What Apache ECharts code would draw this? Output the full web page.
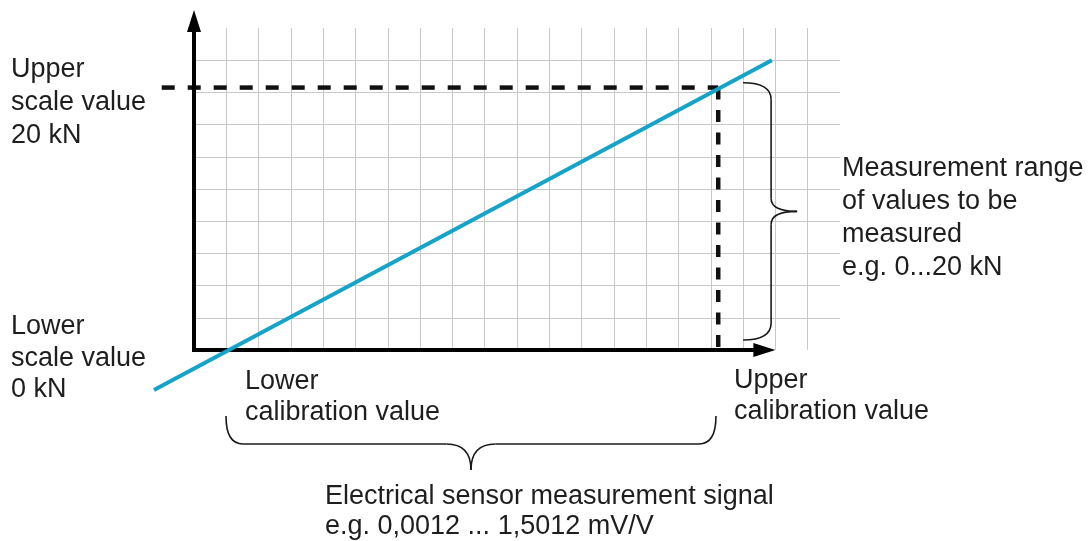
<!DOCTYPE html>
<html>
<head>
<meta charset="utf-8">
<script src="https://cdn.jsdelivr.net/npm/echarts@6/dist/echarts.min.js"></script>
<style>html,body{margin:0;padding:0;background:#fff}#chart{width:1091px;height:541px}</style>
</head>
<body>
<div id="chart"></div>
<script>
// ---- data (grid cell units) ----
const signalLine = [[-1.24, -1.24, 17.89, 9.0]];
const upperScaleLine = [[-1.0, 8.15, 16.23, 8.15]];
const upperCalibrationLine = [[16.23, 8.15, 16.23, 0.05]];
const axisArrows = [[0, -0.06, 0, 10.56], [-0.06, 0, 18.0, 0]];
const braces = [[17.0, 8.3, 17.0, 0.31], [16.16, -2.05, 0.99, -2.05]];
const labelUpperScale = ['Upper', 'scale value', '20 kN'];
const labelLowerScale = ['Lower', 'scale value', '0 kN'];
const labelRange = ['Measurement range', 'of values to be', 'measured', 'e.g. 0...20 kN'];
const labelLowerCal = ['Lower', 'calibration value'];
const labelUpperCal = ['Upper', 'calibration value'];
const labelSignal = ['Electrical sensor measurement signal', 'e.g. 0,0012 ... 1,5012 mV/V'];

const FONT = '27px "Liberation Sans", Arial, sans-serif';
const TXT = '#1e1e1e';

function segmentRenderer(stroke, width, dash) {
  return function (params, api) {
    const p1 = api.coord([api.value(0), api.value(1)]);
    const p2 = api.coord([api.value(2), api.value(3)]);
    return { type: 'line', shape: { x1: p1[0], y1: p1[1], x2: p2[0], y2: p2[1] },
      style: { stroke: stroke, lineWidth: width, lineDash: dash, lineCap: 'butt' } };
  };
}

function renderArrowAxis(params, api) {
  const p1 = api.coord([api.value(0), api.value(1)]);
  const p2 = api.coord([api.value(2), api.value(3)]);
  const dx = p2[0] - p1[0], dy = p2[1] - p1[1];
  const L = Math.hypot(dx, dy);
  const ux = dx / L, uy = dy / L, nx = -uy, ny = ux;
  const len = 22, half = 7;
  const bx = p2[0] - ux * len, by = p2[1] - uy * len;
  return {
    type: 'group',
    children: [
      { type: 'line', shape: { x1: p1[0], y1: p1[1], x2: bx + ux * 2, y2: by + uy * 2 },
        style: { stroke: '#000', lineWidth: 4 } },
      { type: 'polygon', shape: { points: [[p2[0], p2[1]], [bx + nx * half, by + ny * half], [bx - nx * half, by - ny * half]] },
        style: { fill: '#000' } }
    ]
  };
}

function renderBrace(params, api) {
  const S = api.coord([api.value(0), api.value(1)]);
  const E = api.coord([api.value(2), api.value(3)]);
  const dx = E[0] - S[0], dy = E[1] - S[1];
  const L = Math.hypot(dx, dy);
  const ux = dx / L, uy = dy / L;
  const nx = uy, ny = -ux;
  const d1 = 28, d2 = 54, r = 17, r2 = 0.05 * L;
  const P = (u, v) => [S[0] + ux * u + nx * v, S[1] + uy * u + ny * v];
  const st = { stroke: '#1a1a1a', lineWidth: 1.6, fill: null };
  const q = (a, c, b) => ({ type: 'bezierCurve', shape: { x1: a[0], y1: a[1], cpx1: c[0], cpy1: c[1], x2: b[0], y2: b[1] }, style: st });
  const ln = (a, b) => ({ type: 'line', shape: { x1: a[0], y1: a[1], x2: b[0], y2: b[1] }, style: st });
  const m = L / 2;
  return {
    type: 'group',
    children: [
      q(P(0, 0), P(0, d1), P(r, d1)),
      ln(P(r, d1), P(m - r2, d1)),
      q(P(m - r2, d1), P(m, d1), P(m, d2)),
      q(P(m, d2), P(m, d1), P(m + r2, d1)),
      ln(P(m + r2, d1), P(L - r, d1)),
      q(P(L - r, d1), P(L, d1), P(L, 0))
    ]
  };
}

function txt(lines, x, top, lh) {
  return { type: 'text', x: x, y: top, z: 100,
    style: { text: lines.join('\n'), font: FONT, fill: TXT, lineHeight: lh, verticalAlign: 'top', align: 'left' } };
}

const seg = (data, render, z) => ({ type: 'custom', coordinateSystem: 'cartesian2d', data: data, renderItem: render,
  z: z, clip: false, encode: { x: [0, 2], y: [1, 3] } });

const chart = echarts.init(document.getElementById('chart'), null, { renderer: 'canvas' });
chart.setOption({
  animation: false,
  backgroundColor: '#fff',
  grid: { left: 194, right: 251, top: 28, bottom: 191 },
  xAxis: {
    type: 'value', min: 0, max: 20, interval: 1,
    axisLine: { show: false }, axisTick: { show: false }, axisLabel: { show: false },
    splitLine: { show: true, showMinLine: false, showMaxLine: false, lineStyle: { color: '#c8c8c8', width: 1 } }
  },
  yAxis: {
    type: 'value', min: 0, max: 10, interval: 1,
    axisLine: { show: false }, axisTick: { show: false }, axisLabel: { show: false },
    splitLine: { show: true, showMinLine: false, showMaxLine: false, lineStyle: { color: '#c8c8c8', width: 1 } }
  },
  series: [
    seg(upperScaleLine, segmentRenderer('#111', 4.5, [13, 13]), 3),
    seg(upperCalibrationLine, segmentRenderer('#111', 4.5, [12, 10.5]), 3),
    seg(axisArrows, renderArrowAxis, 4),
    seg(braces, renderBrace, 4),
    seg(signalLine, segmentRenderer('#15a3c8', 4, null), 5)
  ],
  graphic: [
    txt(labelUpperScale, 11, 53, 33),
    txt(labelLowerScale, 11, 311, 31.5),
    txt(labelRange, 842, 152.5, 33),
    txt(labelLowerCal, 245, 366, 31),
    txt(labelUpperCal, 734, 364.5, 31.5),
    txt(labelSignal, 325, 481, 30.5)
  ]
});
</script>
</body>
</html>
